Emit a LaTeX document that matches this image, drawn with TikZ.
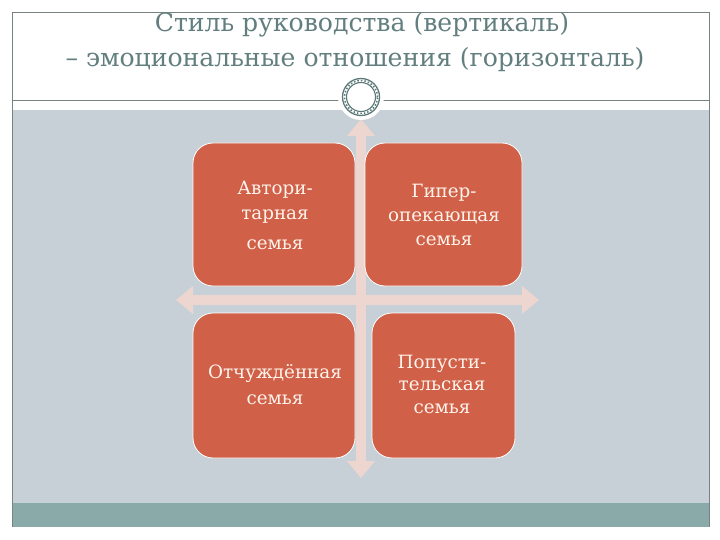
\documentclass[tikz,border=0pt]{standalone}
\usepackage{fontspec}
\setmainfont{DejaVu Serif}
\usetikzlibrary{arrows.meta}
\definecolor{boxfill}{RGB}{208,96,72}
\definecolor{panel}{RGB}{198,208,214}
\definecolor{band}{RGB}{138,170,170}
\definecolor{arrowc}{RGB}{238,214,208}
\definecolor{titlec}{RGB}{98,126,126}
\definecolor{framec}{RGB}{120,130,130}
\definecolor{ringc}{RGB}{92,120,120}
\definecolor{boxtext}{RGB}{255,244,236}
\tikzset{
  famBox/.style={draw=white, line width=0.8pt, fill=boxfill, rounded corners=20pt},
  famText/.style={text=boxtext, anchor=base, inner sep=0pt, font=\fontsize{18.3}{22}\selectfont},
  bigArrow/.style={draw=arrowc, line width=10pt, {Triangle[width=27pt,length=17pt]}-{Triangle[width=27pt,length=17pt]}},
  titleText/.style={text=titlec, anchor=base, inner sep=0pt, font=\fontsize{25.1}{35}\selectfont}
}
\begin{document}
\begin{tikzpicture}[x=1pt,y=-1pt]
\useasboundingbox (0,0) rectangle (720,540);
\fill[white] (0,0) rectangle (720,540);
% panel and band
\fill[panel] (12,110) rectangle (709,503);
\fill[band] (12,503) rectangle (709,527);
% frame
\draw[framec, line width=0.8pt] (12,527) -- (12,12) -- (709,12) -- (709,527);
\draw[framec, line width=0.8pt] (12,100) -- (709,100);
% title
\node[titleText] (title1) at (362,32) {Стиль руководства (вертикаль)};
\node[titleText] (title2) at (355,67) {– эмоциональные отношения (горизонталь)};
% arrows
\coordinate (vtop) at (361,119);
\coordinate (vbot) at (361,478);
\coordinate (hleft) at (176,300);
\coordinate (hright) at (539,300);
\draw[bigArrow] (vtop) -- (vbot);
\draw[bigArrow] (hleft) -- (hright);
% circle
\node[circle, fill=white, minimum size=46pt, inner sep=0pt] (halo) at (361,97) {};
\node[circle, draw=ringc, line width=1.3pt, minimum size=37pt, inner sep=0pt] (ringA) at (361,97) {};
\node[circle, draw=ringc, line width=1.5pt, dotted, minimum size=33pt, inner sep=0pt] (ringM) at (361,97) {};
\node[circle, draw=ringc, line width=1.1pt, minimum size=29pt, inner sep=0pt] (ringB) at (361,97) {};
% boxes
\draw[famBox] (193,143) rectangle (355,286);
\draw[famBox] (365,143) rectangle (522,286);
\draw[famBox] (193,313) rectangle (355,458);
\draw[famBox] (372,313) rectangle (515,458);
% texts
\node[famText] (tl1) at (275,195) {Автори-};
\node[famText] (tl2) at (275,220) {тарная};
\node[famText] (tl3) at (275,249) {семья};
\node[famText] (tr1) at (444,197) {Гипер-};
\node[famText] (tr2) at (444,222) {опекающая};
\node[famText] (tr3) at (444,245) {семья};
\node[famText] (bl1) at (275,378) {Отчуждённая};
\node[famText] (bl2) at (275,404) {семья};
\node[famText] (br1) at (442,368) {Попусти-};
\node[famText] (br2) at (442,390) {тельская};
\node[famText] (br3) at (442,413) {семья};
\end{tikzpicture}
\end{document}
